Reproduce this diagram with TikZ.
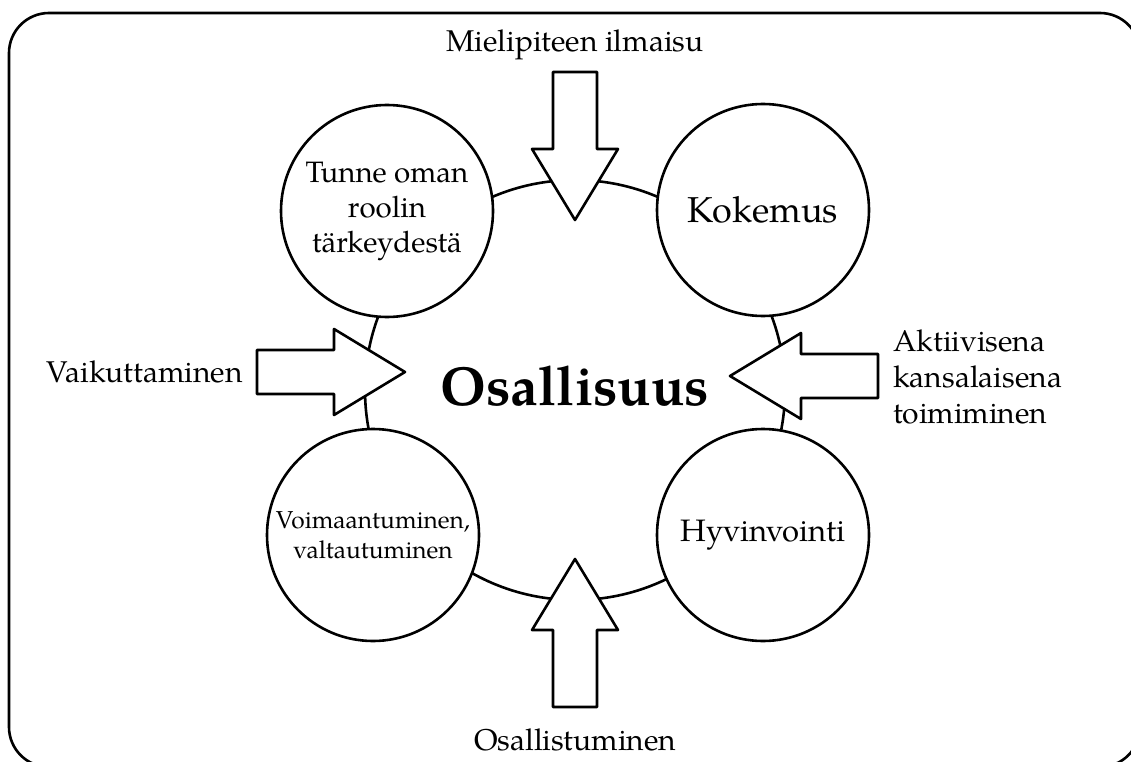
\documentclass[tikz,border=0pt]{standalone}
\usepackage{fontspec}
\setmainfont{TeX Gyre Pagella}
\usetikzlibrary{positioning}

\tikzset{
  bubble/.style={draw, circle, fill=white, minimum size=212pt, inner sep=0pt,
    align=center, font=\fontsize{29.5}{35}\selectfont},
  blockarrow/.style={draw, fill=white, line join=round},
  sidetext/.style={inner sep=0pt, font=\fontsize{30}{36}\selectfont},
}

\begin{document}
\begin{tikzpicture}[x=1pt, y=-1pt, line width=2.6pt]
  \useasboundingbox (0,0) rectangle (1131,762);
  % outer frame (runs past the right and bottom edges)
  \draw[rounded corners=40pt] (9,13) rectangle (1140,767);
  % ring behind the four circles
  \draw (575,390) circle[radius=210];
  % the four circles
  \node[bubble] (rooli) at (387,211) {Tunne oman\\roolin\\tärkeydestä};
  \node[bubble] (kokemus) at (763,210) {\fontsize{36}{42}\selectfont Kokemus};
  \node[bubble, font=\fontsize{24.5}{30}\selectfont] (voima) at (373,535) {Voimaantuminen,\\valtautuminen};
  \node[bubble] (hyvinvointi) at (763,535) {\fontsize{31}{37}\selectfont Hyvinvointi};
  % centre word
  \node[font=\fontsize{55}{66}\selectfont\bfseries] (osallisuus) at (575,386) {Osallisuus};
  % block arrows pointing into the ring
  \foreach \tip/\ang in {{(575,220)}/-90, {(575,559)}/90, {(405,372)}/0, {(730,376)}/180}
    \draw[blockarrow, shift={\tip}, rotate=\ang]
      (0,0) -- (-71,-43) -- (-71,-22) -- (-148,-22) -- (-148,22) -- (-71,22) -- (-71,43) -- cycle;
  % arrow labels
  \node[sidetext] (ilmaisu) at (575,45) {Mielipiteen ilmaisu};
  \node[sidetext] (osallistuminen) at (575,740) {Osallistuminen};
  \node[sidetext, anchor=east] (vaikuttaminen) at (244,372) {Vaikuttaminen};
  \node[sidetext, anchor=west, align=left] (aktiivisena) at (892,377) {Aktiivisena\\kansalaisena\\toimiminen};
\end{tikzpicture}
\end{document}
